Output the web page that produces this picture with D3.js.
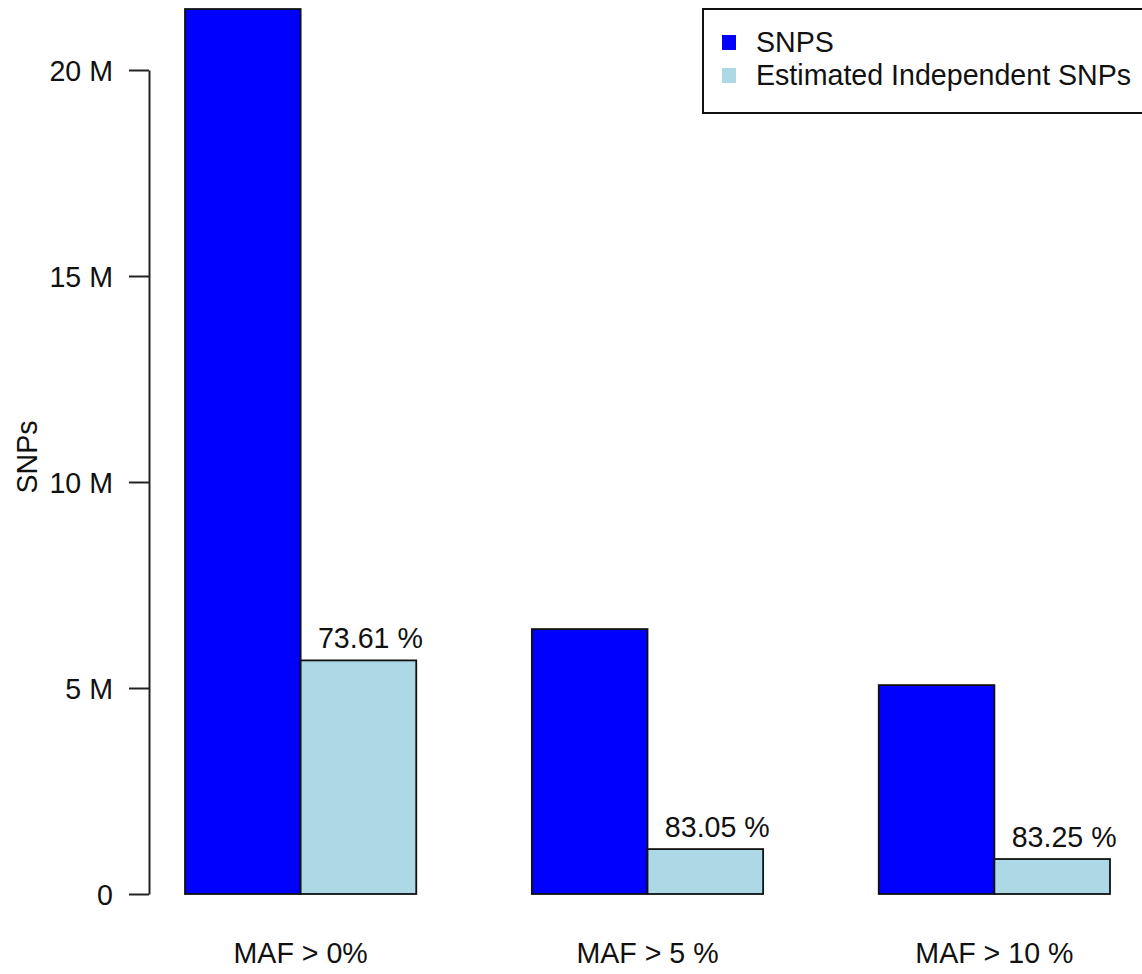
<!DOCTYPE html>
<html>
<head>
<meta charset="utf-8">
<script src="https://cdn.jsdelivr.net/npm/d3@7/dist/d3.min.js"></script>
<style>
  html, body { margin: 0; padding: 0; background: #fff; }
  svg { display: block; font-family: "Liberation Sans", Arial, Helvetica, sans-serif; }
</style>
</head>
<body>
<svg id="chart" width="1142" height="974"></svg>
<script>
// ---- data ----
const categories = ["MAF > 0%", "MAF > 5 %", "MAF > 10 %"];
const seriesNames = ["SNPS", "Estimated Independent SNPs"];
const seriesColors = ["#0000ff", "#add8e6"];
const snps = [21480000, 6430000, 5070000];
const independentSnps = [5670000, 1090000, 849000];
const pctLabels = ["73.61 %", "83.05 %", "83.25 %"];
const tickValues = [0, 5000000, 10000000, 15000000, 20000000];
const tickLabels = ["0", "5 M", "10 M", "15 M", "20 M"];
const yTitle = "SNPs";

// ---- layout ----
const svg = d3.select("#chart");
const FONT = 28.6;

const y = d3.scaleLinear().domain([0, 20000000]).range([894, 70]);
const x0 = d3.scaleBand().domain(categories).range([185, 1110]).paddingInner(1/3).paddingOuter(0);
const x1 = d3.scaleBand().domain(seriesNames).range([0, x0.bandwidth()]).padding(0);

const rows = categories.map((c, i) => ({ cat: c, vals: [snps[i], independentSnps[i]], pct: pctLabels[i] }));

// bars
const g = svg.append("g");
const groups = g.selectAll("g.grp").data(rows).enter().append("g")
  .attr("class", "grp")
  .attr("transform", d => `translate(${x0(d.cat)},0)`);

groups.selectAll("rect").data(d => d.vals.map((v, k) => ({ v, k })))
  .enter().append("rect")
  .attr("x", d => x1(seriesNames[d.k]))
  .attr("width", x1.bandwidth())
  .attr("y", d => y(d.v))
  .attr("height", d => y(0) - y(d.v))
  .attr("fill", d => seriesColors[d.k])
  .attr("stroke", "#111")
  .attr("stroke-width", 1.8);

// percentage labels
groups.append("text")
  .attr("x", d => x1(seriesNames[1]) + x1.bandwidth() / 2 + 12)
  .attr("y", d => y(d.vals[1]) - 12)
  .attr("text-anchor", "middle")
  .attr("font-size", FONT)
  .attr("fill", "#111")
  .text(d => d.pct);

// category labels
g.selectAll("text.cat").data(categories).enter().append("text")
  .attr("class", "cat")
  .attr("x", d => x0(d) + x0.bandwidth() / 2)
  .attr("y", 963)
  .attr("text-anchor", "middle")
  .attr("font-size", FONT)
  .attr("fill", "#111")
  .text(d => d);

// y axis
const axis = d3.axisLeft(y)
  .tickValues(tickValues)
  .tickFormat((d, i) => tickLabels[i])
  .tickSize(20)
  .tickSizeOuter(0)
  .tickPadding(16);

const ax = svg.append("g").attr("transform", "translate(149,0)").call(axis);
ax.select(".domain").attr("stroke", "#222").attr("stroke-width", 2);
ax.selectAll(".tick line").attr("stroke", "#222").attr("stroke-width", 2);
ax.selectAll(".tick text")
  .attr("font-size", FONT)
  .attr("font-family", "Liberation Sans, Arial, sans-serif")
  .attr("fill", "#111")
  .attr("dy", null)
  .attr("y", 10);

// y title
svg.append("text")
  .attr("transform", "translate(37,457) rotate(-90)")
  .attr("text-anchor", "middle")
  .attr("font-size", FONT)
  .attr("fill", "#111")
  .text(yTitle);

// legend
const lg = svg.append("g");
lg.append("rect")
  .attr("x", 703).attr("y", 9)
  .attr("width", 460).attr("height", 104)
  .attr("fill", "#fff")
  .attr("stroke", "#111")
  .attr("stroke-width", 2);

const items = lg.selectAll("g.item").data(seriesNames).enter().append("g")
  .attr("class", "item")
  .attr("transform", (d, i) => `translate(0,${i * 33})`);
items.append("rect")
  .attr("x", 722).attr("y", 35)
  .attr("width", 14).attr("height", 15)
  .attr("fill", (d, i) => seriesColors[i]);
items.append("text")
  .attr("x", 756).attr("y", 52)
  .attr("font-size", FONT)
  .attr("fill", "#111")
  .text(d => d);
</script>
</body>
</html>
